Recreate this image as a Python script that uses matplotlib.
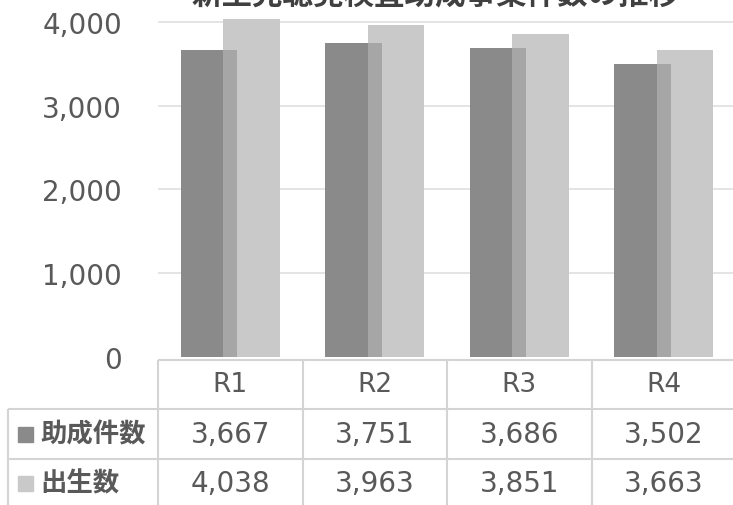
import numpy as np
import matplotlib
matplotlib.use('Agg')
import matplotlib.pyplot as plt
from matplotlib.patches import Rectangle

categories = ['R1', 'R2', 'R3', 'R4']
subsidy = [3667, 3751, 3686, 3502]
births = [4038, 3963, 3851, 3663]
series_names = ['助成件数', '出生数']
yticks = [0, 1000, 2000, 3000, 4000]
title = '新生児聴覚検査助成事業件数の推移'

W, H = 733, 506
fig = plt.figure(figsize=(W / 100, H / 100), dpi=100)
fig.patch.set_facecolor('white')

def fx(px):
    return px / W

def fy(py):
    return 1 - py / H

TXT = '#595959'
DARK = '#8a8a8a'
SIDE = '#a6a6a6'
LIGHT = '#c9c9c9'
GRID = '#e2e2e2'
BORDER = '#d4d4d4'
NUMFONT = ['DejaVu Sans']
JPFONT = ['Noto Sans CJK JP', 'DejaVu Sans']

# main bar axes: 0 at y=358 px, 4000 at y=23 px, axes reaching the top edge
ppu = (358 - 23) / 4000.0
ytop = 358 / ppu
ax = fig.add_axes([fx(158), fy(358), fx(736 - 158), 358 / H])
ax.set_xlim(-0.5, 3.5)
ax.set_ylim(0, ytop)
x = np.arange(len(categories))
ax.bar(x - 0.048, births, width=0.392, align='edge', color=LIGHT, zorder=2)
ax.bar(x - 0.342, subsidy, width=0.294, align='edge', color=DARK, zorder=3)
ax.bar(x - 0.048, subsidy, width=0.097, align='edge', color=SIDE, zorder=3)
ax.set_yticks(yticks)
ax.set_yticklabels([f'{v:,}' for v in yticks], family=NUMFONT)
ax.yaxis.grid(True, color=GRID, lw=1.3)
ax.get_ygridlines()[0].set_visible(False)
ax.set_axisbelow(True)
ax.tick_params(axis='y', length=0, pad=26, labelsize=20, labelcolor=TXT)
ax.set_xticks([])
for s in ax.spines.values():
    s.set_visible(False)

# title (top cut off as in reference)
fig.text(fx(436), fy(4), title, ha='center', va='baseline', fontsize=22,
         weight='bold', color='#404040', family=JPFONT)

# data table drawn in pixel coordinates
tab = fig.add_axes([0, 0, 1, 1])
tab.set_xlim(0, W)
tab.set_ylim(H, 0)
tab.axis('off')
tab.patch.set_alpha(0)

def colpx(v):
    return ax.transData.transform((v, 0))[0]

borders = [colpx(i - 0.5) for i in range(len(categories) + 1)]
left = 8
rows_y = [361, 410, 460, 510]
lkw = dict(color=BORDER, lw=1.5, solid_capstyle='butt')
tab.plot([borders[0], borders[-1]], [rows_y[0], rows_y[0]], **lkw)
for yy in rows_y[1:3]:
    tab.plot([left, borders[-1]], [yy, yy], **lkw)
tab.plot([left, left], [rows_y[1], rows_y[3]], **lkw)
for bx in borders:
    tab.plot([bx, bx], [rows_y[0], rows_y[3]], **lkw)

centers = [colpx(i) for i in range(len(categories))]
hy = (rows_y[0] + rows_y[1]) / 2
for cx, c in zip(centers, categories):
    tab.text(cx, hy, c, ha='center', va='center', fontsize=19, color=TXT, family=NUMFONT)

row_centers = [435, 484]
for ry, name, vals, col in zip(row_centers, series_names, [subsidy, births], [DARK, LIGHT]):
    tab.add_patch(Rectangle((18, ry - 7.5), 15, 15, color=col))
    tab.text(40, ry, name, ha='left', va='center', fontsize=19, weight='bold',
             color=TXT, family=JPFONT)
    for cx, v in zip(centers, vals):
        tab.text(cx, ry, f'{v:,}', ha='center', va='center', fontsize=20,
                 color=TXT, family=NUMFONT)

fig.savefig('out.png', dpi=100, facecolor='white')
